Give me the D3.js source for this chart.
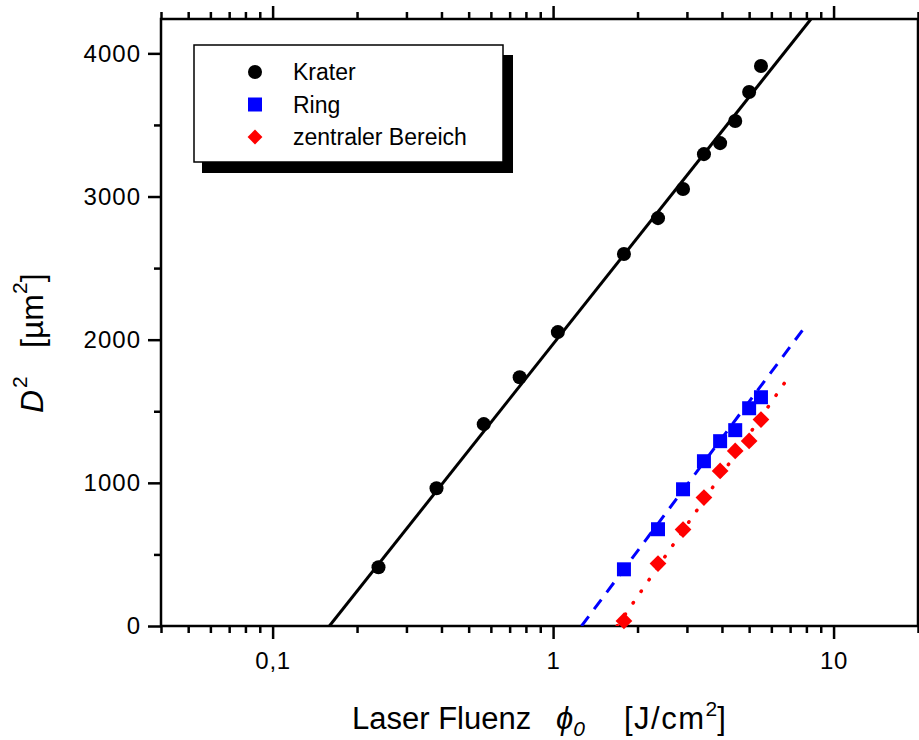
<!DOCTYPE html>
<html><head><meta charset="utf-8">
<script src="https://cdn.jsdelivr.net/npm/d3@7"></script>
<style>
html,body{margin:0;padding:0;background:#fff;}
text{font-family:"Liberation Sans",Arial,sans-serif;}
</style></head>
<body><svg id="chart" width="919" height="740"></svg>
<script>
// ---- data ----
const fluence = [0.2385, 0.384, 0.566, 0.760, 1.04, 1.789, 2.366, 2.906, 3.45, 3.94, 4.46, 5.0, 5.51];
const krater  = [410, 962, 1410, 1738, 2053, 2598, 2849, 3052, 3296, 3373, 3527, 3730, 3912];
const ringFluence = [1.789, 2.366, 2.906, 3.45, 3.94, 4.46, 5.0, 5.51];
const ring    = [396, 676, 955, 1151, 1291, 1368, 1521, 1598];
const zentral = [35, 436, 674, 897, 1083, 1223, 1293, 1442];
// fit lines (endpoints in data units)
const fitKraterX = [0.1594, 8.31];  const fitKraterY = [0, 4240];
const fitRingX   = [1.263, 8.04];   const fitRingY   = [0, 2108];
const fitZentX   = [1.693, 6.7];    const fitZentY   = [0, 1700];
const xTickVals = [0.1, 1, 10];
const xTickLabels = ["0,1", "1", "10"];
const yTickVals = [0, 1000, 2000, 3000, 4000];
const legendLabels = ["Krater", "Ring", "zentraler Bereich"];

const svg = d3.select("#chart");
const L = 161, R = 918, T = 19, B = 626;
const x = d3.scaleLog().domain([0.04, 20]).range([L, R]);
const y = d3.scaleLinear().domain([0, 4240]).range([B, T]);

const xMinor = [];
for (const dec of [0.01, 0.1, 1, 10]) for (let k = 2; k <= 9; k++) { const v = k * dec; if (v >= 0.04 && v <= 20.0001) xMinor.push(v); }
const yMinor = [500, 1500, 2500, 3500];

const axisStyle = g => { g.select(".domain").remove(); g.selectAll("line").attr("stroke", "#000").attr("stroke-width", 2.5); };

// bottom
svg.append("g").attr("transform", `translate(0,${B})`)
  .call(d3.axisBottom(x).tickValues(xMinor).tickSize(7).tickFormat(""))
  .call(axisStyle);
const bx = svg.append("g").attr("transform", `translate(0,${B})`)
  .call(d3.axisBottom(x).tickValues(xTickVals).tickSize(13).tickFormat((d, i) => xTickLabels[i]))
  .call(axisStyle);
bx.selectAll("text").attr("font-size", 24).attr("fill", "#000").attr("y", 26).attr("dy", "0.71em")
  .style("letter-spacing", "0.8px");
// top
svg.append("g").attr("transform", `translate(0,${T})`)
  .call(d3.axisTop(x).tickValues(xMinor).tickSize(7).tickFormat("")).call(axisStyle);
svg.append("g").attr("transform", `translate(0,${T})`)
  .call(d3.axisTop(x).tickValues(xTickVals).tickSize(13).tickFormat("")).call(axisStyle);
// left
svg.append("g").attr("transform", `translate(${L},0)`)
  .call(d3.axisLeft(y).tickValues(yMinor).tickSize(7).tickFormat("")).call(axisStyle);
const ly = svg.append("g").attr("transform", `translate(${L},0)`)
  .call(d3.axisLeft(y).tickValues(yTickVals).tickSize(13).tickFormat(d3.format("d")))
  .call(axisStyle);
ly.selectAll("text").attr("font-size", 24).attr("fill", "#000").attr("x", -20)
  .style("letter-spacing", "1px");
// right
svg.append("g").attr("transform", `translate(${R},0)`)
  .call(d3.axisRight(y).tickValues(yTickVals).tickSize(13).tickFormat("")).call(axisStyle);

// frame
svg.append("rect").attr("x", L).attr("y", T).attr("width", R - L).attr("height", B - T)
  .attr("fill", "none").attr("stroke", "#000").attr("stroke-width", 2.5);

svg.append("clipPath").attr("id", "clip").append("rect").attr("x", L).attr("y", T).attr("width", R - L).attr("height", B - T);
const plot = svg.append("g").attr("clip-path", "url(#clip)");

const line = d3.line().x(d => x(d[0])).y(d => y(d[1]));
plot.append("path").datum(d3.zip(fitKraterX, fitKraterY)).attr("d", line)
  .attr("fill", "none").attr("stroke", "#000").attr("stroke-width", 3);
plot.append("path").datum(d3.zip(fitRingX, fitRingY)).attr("d", line)
  .attr("fill", "none").attr("stroke", "#0000ff").attr("stroke-width", 3).attr("stroke-dasharray", "12,9");
plot.append("path").datum(d3.zip(fitZentX, fitZentY)).attr("d", line)
  .attr("fill", "none").attr("stroke", "#ff0000").attr("stroke-width", 3.5)
  .attr("stroke-linecap", "round").attr("stroke-dasharray", "0.5,13.5");

const sym = {
  circle: d3.symbol().type(d3.symbolCircle).size(155)(),
  square: d3.symbol().type(d3.symbolSquare).size(196)(),
  diamond: d3.symbol().type(d3.symbolSquare).size(140)()
};
plot.selectAll(".ck").data(d3.zip(fluence, krater)).join("path")
  .attr("d", sym.circle).attr("fill", "#000")
  .attr("transform", d => `translate(${x(d[0])},${y(d[1])})`);
plot.selectAll(".rg").data(d3.zip(ringFluence, ring)).join("path")
  .attr("d", sym.square).attr("fill", "#0000ff")
  .attr("transform", d => `translate(${x(d[0])},${y(d[1])})`);
svg.selectAll(".zb").data(d3.zip(ringFluence, zentral)).join("path")
  .attr("d", sym.diamond).attr("fill", "#ff0000")
  .attr("transform", d => `translate(${x(d[0])},${y(d[1])}) rotate(45)`);

// legend
const lg = svg.append("g");
lg.append("rect").attr("x", 202).attr("y", 55).attr("width", 311).attr("height", 118).attr("fill", "#000");
lg.append("rect").attr("x", 194).attr("y", 45).attr("width", 309).attr("height", 117)
  .attr("fill", "#fff").attr("stroke", "#000").attr("stroke-width", 1.5);
const legSyms = [
  { d: sym.circle, fill: "#000", rot: 0 },
  { d: sym.square, fill: "#0000ff", rot: 0 },
  { d: d3.symbol().type(d3.symbolSquare).size(110)(), fill: "#ff0000", rot: 45 }
];
legendLabels.forEach((lab, i) => {
  const cy = 72 + i * 32.5;
  lg.append("path").attr("d", legSyms[i].d).attr("fill", legSyms[i].fill)
    .attr("transform", `translate(255,${cy}) rotate(${legSyms[i].rot})`);
  lg.append("text").attr("x", 293).attr("y", cy).attr("dy", "0.36em")
    .attr("font-size", 23).attr("fill", "#000").text(lab);
});

// x title
const xt = svg.append("text").attr("y", 729).attr("font-size", 31).attr("fill", "#000");
xt.append("tspan").attr("x", 352).text("Laser Fluenz");
xt.append("tspan").attr("x", 556).attr("font-style", "italic").text("ϕ");
xt.append("tspan").attr("font-style", "italic").attr("font-size", 21).attr("dy", 7).text("0");
xt.append("tspan").attr("x", 624).attr("dy", -7).style("letter-spacing", "1.5px").text("[J/cm");
xt.append("tspan").attr("font-size", 21).attr("dy", -13).text("2");
xt.append("tspan").attr("dy", 13).text("]");

// y title (rotated, reading upward)
const yt = svg.append("text").attr("transform", "translate(43,413) rotate(-90)")
  .attr("font-size", 32).attr("fill", "#000");
yt.append("tspan").attr("x", 0).attr("font-style", "italic").text("D");
yt.append("tspan").attr("x", 25).attr("font-size", 21).attr("dy", -16).text("2");
yt.append("tspan").attr("x", 65).attr("dy", 16).text("[µm");
yt.append("tspan").attr("font-size", 21).attr("dy", -16).text("2");
yt.append("tspan").attr("dy", 16).text("]");
</script></body></html>
